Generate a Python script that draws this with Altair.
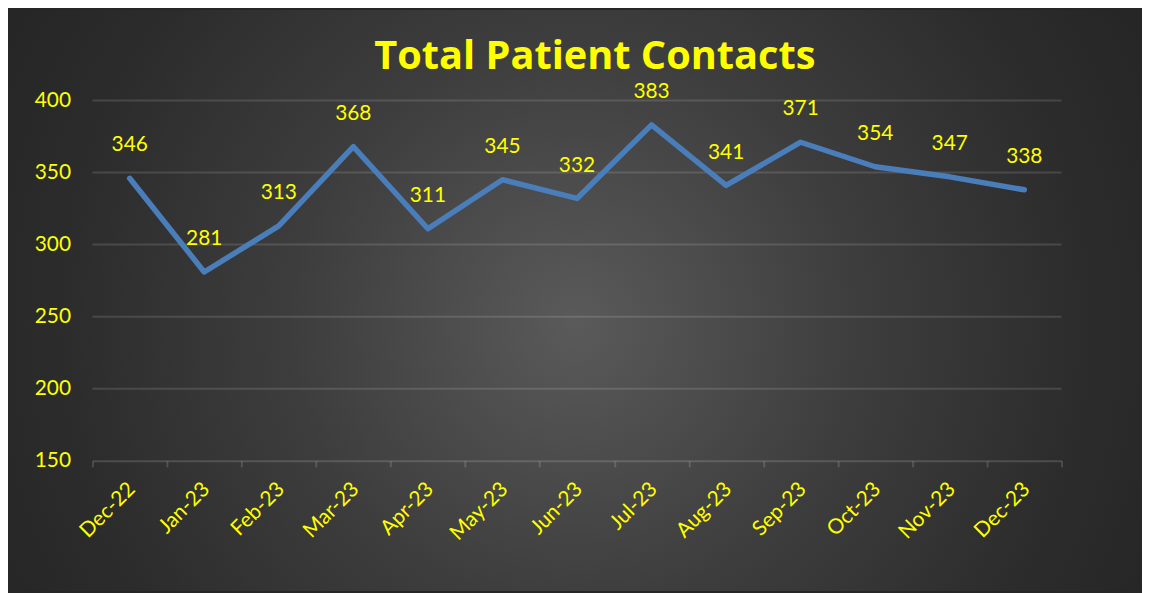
import altair as alt
import pandas as pd

# ---- data ----
months = ["Dec-22", "Jan-23", "Feb-23", "Mar-23", "Apr-23", "May-23", "Jun-23",
          "Jul-23", "Aug-23", "Sep-23", "Oct-23", "Nov-23", "Dec-23"]
contacts = [346, 281, 313, 368, 311, 345, 332, 383, 341, 371, 354, 347, 338]
y_ticks = [150, 200, 250, 300, 350, 400]
grid_values = [200, 250, 300, 350, 400]
title_text = "Total Patient Contacts"

df = pd.DataFrame({"month": months, "contacts": contacts})
grid_df = pd.DataFrame({"contacts": grid_values})
title_df = pd.DataFrame({"t": [title_text]})

W, H = 976, 363
PAD = {"left": 85, "top": 91, "right": 81, "bottom": 131}
YELLOW = "#ffff00"
FONT = "Lato"

y_scale = alt.Scale(domain=[150, 400], nice=False, zero=False)
x_scale = alt.Scale(type="band", paddingInner=0, paddingOuter=0)

x_axis = alt.Axis(
    title=None, labelAngle=-45, labelAlign="right", labelBaseline="middle",
    tickBand="extent", tickSize=6, labelPadding=19, labelOffset=2,
    domainColor="white", domainOpacity=0.15, domainWidth=2,
    tickColor="white", tickOpacity=0.15, tickWidth=2,
    labelColor=YELLOW, labelFont=FONT, labelFontSize=21, grid=False, zindex=1,
)
y_axis = alt.Axis(
    title=None, values=y_ticks, domain=False, ticks=False, grid=False,
    labelPadding=22, labelColor=YELLOW, labelFont=FONT, labelFontSize=21, zindex=1,
)

x_enc = alt.X("month:N", sort=months, scale=x_scale, axis=x_axis)
y_enc = alt.Y("contacts:Q", scale=y_scale, axis=y_axis)

gradient = alt.RadialGradient(
    gradient="radial", x1=0.5, y1=0.52, r1=0, x2=0.5, y2=0.52, r2=0.56,
    stops=[
        alt.GradientStop(color="#5a5a5a", offset=0),
        alt.GradientStop(color="#3d3d3d", offset=0.45),
        alt.GradientStop(color="#2c2c2c", offset=0.8),
        alt.GradientStop(color="#262626", offset=1),
    ],
)

bg = alt.Chart(pd.DataFrame({"k": [0]})).mark_rect(fill=gradient).encode(
    x=alt.value(-PAD["left"]), x2=alt.value(W + PAD["right"]),
    y=alt.value(-PAD["top"]), y2=alt.value(H + PAD["bottom"]),
)

grid = alt.Chart(grid_df).mark_rule(stroke="white", strokeOpacity=0.13, strokeWidth=2).encode(
    y=y_enc,
    x=alt.value(0), x2=alt.value(W),
)

line = alt.Chart(df).mark_line(
    color="#4a7ebb", strokeWidth=5.5, strokeCap="round", strokeJoin="round"
).encode(x=x_enc, y=y_enc)

labels = alt.Chart(df).mark_text(
    color=YELLOW, font=FONT, fontSize=21, dy=-33, baseline="middle"
).encode(x=x_enc, y=y_enc, text="contacts:Q")

title = alt.Chart(title_df).mark_text(
    color=YELLOW, font="Open Sans", fontSize=40, fontWeight="bold",
    align="center", baseline="alphabetic",
).encode(x=alt.value(W / 2 + 18), y=alt.value(-32), text="t:N")

chart = alt.layer(bg, grid, line, labels, title).properties(
    width=W, height=H, padding=PAD,
    autosize=alt.AutoSizeParams(type="none"),
    background="#262626",
).configure_view(stroke=None)

chart.save("out.html", embed_options={"renderer": "svg", "actions": False})
